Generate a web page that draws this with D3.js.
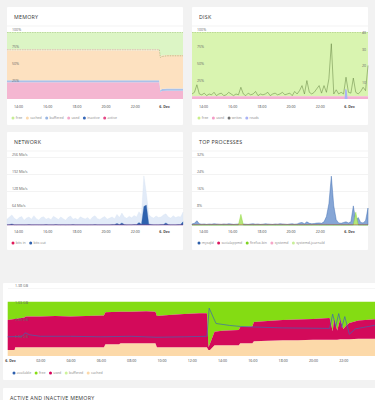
<!DOCTYPE html>
<html>
<head>
<meta charset="utf-8">
<script src="https://cdn.jsdelivr.net/npm/d3@7"></script>
<style>
body { margin: 0; background: #f2f2f2; }
svg { display: block; }
svg text { font-family: "Open Sans", sans-serif; }
.card { fill: #fff; }
.title { font-size: 5.3px; fill: #333; letter-spacing: 0.25px; }
.axis-text text { font-size: 3.6px; fill: #444; }
.value-text text { font-size: 3.6px; fill: #666; }
.legend-label { font-size: 3.5px; fill: #8a8a8a; }
</style>
</head>
<body>
<div id="board"></div>
<script>
// time axis of the four small panels, hours after 5 Dec 00:00
const panelStart = 13.25, panelEnd = 25.3;
const panelTicks = [14, 16, 18, 20, 22, 24];
const panelTickLabels = ['14:00', '16:00', '18:00', '20:00', '22:00', '6. Dec'];

// MEMORY, % of RAM
const memHours    = [13.25, 23.68, 23.75, 23.85, 24.2, 25.3];
const memUsed     = [25, 25, 10, 12, 12.5, 12.5];
const memBuffered = [3, 3, 3, 3, 3, 3];
const memCached   = [44.5, 44.5, 50, 50, 50, 50];
const memActive   = [73.5, 73.5, null, null, null, null];
const memInactive = [null, 73.5, 62, 63.5, 64.5, 64.5];
const memTotal = 100;
const pctTicks = [25, 50, 75, 100];
const pctLabels = ['25%', '50%', '75%', '100%'];
const memNames = ['free', 'cached', 'buffered', 'used', 'inactive', 'active'];
const memColors = ['#c6ec96', '#fbd9ae', '#98b5e3', '#f2a7c9', '#3567b7', '#e54887'];

// DISK
const diskHours = [13.25, 25.3];
const diskUsed = [4, 4];
const diskWrites = [3, 4, 8.5, 3, 2.5, 3.5, 2, 3, 2.5, 4,
  2, 3, 3.5, 2, 2.5, 4, 3, 2, 3, 2.5,
  7, 3, 2, 3.5, 2.5, 3, 4.5, 2, 3, 2.5,
  3, 4, 2, 3, 3.5, 2.5, 3, 4, 2.5, 3,
  3.5, 2, 4.5, 3, 5, 8, 3, 11, 4, 3,
  4, 6, 8, 3.5, 8, 4, 12, 33, 3, 5.5,
  3, 4, 3, 13, 4, 3.5, 12.5, 4, 3, 4.5,
  7, 5, 20];
const readHours = [13.25, 23.70, 23.74, 23.84, 23.90, 25.3];
const diskReads = [0, 0, 6, 5.5, 0, 0];
const ioTicks = [10, 20, 30, 40];
const diskNames = ['free', 'used', 'writes', 'reads'];
const diskColors = ['#c9ee8a', '#f29cc7', '#707070', '#a9b2f5'];

// NETWORK, Mb/s
const netPeak = [22, 30, 38, 25, 20, 28, 32, 18, 26, 30,
  22, 35, 24, 19, 28, 31, 22, 26, 20, 33,
  27, 21, 30, 24, 18, 29, 34, 22, 25, 20,
  31, 26, 23, 28, 19, 30, 35, 24, 21, 27,
  32, 22, 26, 30, 24, 40, 28, 45, 30, 25,
  33, 27, 36, 30, 50, 38, 185, 120, 40, 30,
  26, 34, 28, 30, 38, 42, 30, 26, 35, 28,
  32, 30, 48];
const netOut = [1, 1.5, 4, 1, 1, 1.2, 1, 0.8, 1, 1.5,
  1, 1, 1.2, 1, 0.8, 1, 1.5, 1, 1, 1,
  2, 1, 1, 1.2, 0.8, 1, 1, 1.5, 1, 1,
  1, 1.2, 1, 0.8, 1, 1, 1.5, 1, 1, 1,
  1.2, 1, 1, 1.5, 2, 6, 1.5, 8, 1.5, 1,
  1.2, 1, 2, 1.5, 9, 3, 70, 75, 4, 1.5,
  1, 1.2, 1, 1.5, 2, 8, 1.5, 1, 1.2, 1,
  1.5, 2, 12];
const netIn = [0.3, 0.3, 0.4, 0.3, 0.3, 0.3, 0.4, 0.3, 0.3, 0.5, 0.3, 0.4, 0.3];
const netTicks = [64, 128, 192, 256];
const netLabels = ['64 Mb/s', '128 Mb/s', '192 Mb/s', '256 Mb/s'];
const netNames = ['bits in', 'bits out'];
const netColors = ['#e0195a', '#2e60ad'];

// TOP PROCESSES, % cpu
const procMysqld = [0.5, 0.8, 2, 0.6, 0.4, 0.5, 0.3, 0.5, 0.4, 0.6,
  0.5, 0.4, 0.3, 0.5, 0.4, 0.6, 0.5, 0.3, 0.4, 0.5,
  0.8, 0.5, 0.4, 0.3, 0.5, 0.6, 0.4, 0.5, 0.3, 0.4,
  0.6, 0.5, 0.4, 0.3, 0.5, 0.4, 0.6, 0.5, 0.4, 0.3,
  0.5, 0.6, 0.4, 0.5, 1, 1.2, 0.6, 1.5, 0.8, 0.6,
  0.7, 0.9, 1, 0.8, 1.5, 4, 10, 23, 9, 2.5,
  1, 0.8, 1.2, 1.5, 1, 1.5, 9, 2, 3.5, 1.2,
  1, 2, 8];
const procFirefox = [0, 0, 0, 0, 0, 0, 0, 0, 0, 0,
  0, 0, 0, 0, 0, 0, 0, 0, 0, 0,
  5, 0, 0, 0, 0, 0, 0, 0, 0, 0,
  0, 0, 0, 0, 0, 0, 0, 0, 0, 0,
  0, 0, 0, 0, 0, 0, 0, 0, 0, 0,
  0, 0, 0, 0, 0, 0, 0, 0, 0, 0,
  0, 0, 0, 0, 0, 0, 0, 6, 0, 0,
  0, 0, 0];
const procSocial = [0.2, 0.2, 0.3, 0.2, 0.2, 0.2, 0.3, 0.2, 0.2, 0.3, 0.2, 0.2, 0.2];
const procTicks = [8, 16, 24, 32];
const procLabels = ['8%', '16%', '24%', '32%'];
const procNames = ['mysqld', 'socialappmd', 'firefox-bin', 'systemd', 'systemd-journald'];
const procColors = ['#2c5ea9', '#db1860', '#7ed321', '#f5a6c8', '#c8ef9a'];

// RAM over the day, GB, hours after 6 Dec 00:00
const dayHours = [-0.15, 0.3, 0.35, 0.95, 1.05, 2, 3, 4, 5, 6.2,
  6.3, 7.2, 7.3, 8, 9, 9.6, 9.7, 10.5, 11.5, 12.5,
  13.0, 13.1, 13.2, 13.5, 14, 15.1, 15.2, 16.0, 16.1, 17,
  18, 19, 20, 21.1, 21.3, 21.4, 21.6, 21.8, 22.0, 22.2,
  22.4, 23, 24.2];
const dayCached = [0.12, 0.12, 0.18, 0.18, 0.18, 0.18, 0.18, 0.18, 0.18, 0.18,
  0.24, 0.24, 0.26, 0.26, 0.26, 0.26, 0.18, 0.18, 0.18, 0.18,
  0.18, 0.12, 0.12, 0.22, 0.22, 0.22, 0.26, 0.26, 0.30, 0.31,
  0.32, 0.32, 0.33, 0.33, 0.33, 0.33, 0.33, 0.34, 0.34, 0.34,
  0.34, 0.35, 0.35];
const dayUsed = [0.61, 0.63, 0.57, 0.60, 0.62, 0.62, 0.63, 0.62, 0.63, 0.64,
  0.65, 0.66, 0.64, 0.64, 0.65, 0.64, 0.63, 0.65, 0.67, 0.69,
  0.69, 0.06, 0.13, 0.27, 0.29, 0.31, 0.33, 0.34, 0.39, 0.40,
  0.41, 0.42, 0.42, 0.44, 0.17, 0.43, 0.19, 0.41, 0.21, 0.28,
  0.33, 0.37, 0.40];
const availHours = [-0.15, 0.8, 1.0, 1.3, 2, 4, 6, 8, 9.7, 11.5,
  13.0, 13.15, 13.6, 14.5, 15.2, 16, 18, 21.1, 21.3, 21.5,
  21.7, 21.9, 22.1, 22.4, 22.8, 24.2];
const dayAvailable = [0.39, 0.40, 0.47, 0.43, 0.40, 0.40, 0.39, 0.40, 0.38, 0.39,
  0.40, 0.97, 0.66, 0.62, 0.60, 0.59, 0.57, 0.56, 0.85, 0.60,
  0.86, 0.58, 0.80, 0.44, 0.55, 0.63];
const dayTotal = 1.10;
const dayTicks = [0, 2, 4, 6, 8, 10, 12, 14, 16, 18, 20, 22];
const dayTickLabels = ['6. Dec', '02:00', '04:00', '06:00', '08:00', '10:00', '12:00', '14:00', '16:00', '18:00', '20:00', '22:00'];
const gbTicks = [0.345, 0.69, 1.035, 1.38];
const gbLabels = ['0.34 GB', '0.69 GB', '1.03 GB', '1.38 GB'];
const dayNames = ['available', 'free', 'used', 'buffered', 'cached'];
const dayColors = ['#2d5fae', '#86dd12', '#d4005a', '#cdf49b', '#fcd8a8'];

const svg = d3.select('#board').append('svg').attr('width', 375).attr('height', 400);

function evenHours(values, start, end) {
  return values.map((v, i) => start + i * (end - start) / (values.length - 1));
}

function drawCard(x, y, w, h, name, header) {
  svg.append('rect').attr('class', 'card')
    .attr('x', x).attr('y', y).attr('width', w).attr('height', h).attr('rx', 1);
  if (name) {
    svg.append('text').attr('class', 'title').attr('x', x + 7).attr('y', y + 11.5).text(name);
  }
  if (header) {
    svg.append('line').attr('x1', x).attr('x2', x + w)
      .attr('y1', y + header).attr('y2', y + header)
      .attr('stroke', '#f0f0f0').attr('stroke-width', 0.8);
  }
}

function drawTimeAxis(xScale, yPos, ticks, labels) {
  const g = svg.append('g').attr('class', 'axis-text')
    .attr('transform', 'translate(0,' + yPos + ')')
    .call(d3.axisBottom(xScale).tickValues(ticks).tickSize(0).tickFormat((d, i) => labels[i]));
  g.select('.domain').remove();
  g.selectAll('text').attr('y', 0).attr('dy', 0)
    .style('font-weight', (d, i) => labels[i].indexOf('Dec') > -1 ? 'bold' : 'normal');
}

function drawValueAxis(yScale, x0, x1, ticks, labels, opt) {
  const g = svg.append('g').attr('class', 'value-text')
    .attr('transform', 'translate(' + x0 + ',0)')
    .call(d3.axisRight(yScale).tickValues(ticks).tickSize(x1 - x0).tickFormat((d, i) => labels[i]));
  g.select('.domain').remove();
  g.selectAll('.tick line').attr('stroke', opt.grid || 'none').attr('stroke-width', 0.5)
    .attr('stroke-dasharray', opt.dash || null);
  if (opt.noText) g.selectAll('.tick text').remove();
  g.selectAll('.tick text').attr('x', opt.dx).attr('dy', opt.dy || '-0.3em')
    .attr('text-anchor', opt.anchor || 'start');
}

function drawLegend(x, y, names, colors) {
  let cx = x;
  names.forEach((name, i) => {
    svg.append('circle').attr('cx', cx).attr('cy', y).attr('r', 1.5).attr('fill', colors[i]);
    const t = svg.append('text').attr('class', 'legend-label')
      .attr('x', cx + 2.8).attr('y', y + 1.2).text(name);
    cx += 2.8 + t.node().getComputedTextLength() + 5;
  });
}

function areaPath(hours, values, x, y) {
  const rows = hours.map((h, i) => ({h: h, v: values[i]}));
  return d3.area().x(d => x(d.h)).y0(y(0)).y1(d => y(d.v))(rows);
}

function linePath(hours, values, x, y) {
  const rows = hours.map((h, i) => ({h: h, v: values[i]}));
  return d3.line().defined(d => d.v !== null).x(d => x(d.h)).y(d => y(d.v))(rows);
}

// ---------- MEMORY
function drawMemory() {
  drawCard(7, 7, 176, 118, 'MEMORY', 19);
  const x = d3.scaleLinear().domain([panelStart, panelEnd]).range([7, 183]);
  const y = d3.scaleLinear().domain([0, memTotal]).range([99, 32]);
  const rows = memHours.map((h, i) => ({h: h, used: memUsed[i], buffered: memBuffered[i], cached: memCached[i]}));
  const stack = d3.stack().keys(['used', 'buffered', 'cached'])(rows);
  const colors = {used: '#f4b6d1', buffered: '#a9c2e9', cached: '#fde1c0'};

  svg.append('path').datum(stack[2])
    .attr('fill', '#dcf5c5')
    .attr('d', d3.area().x(d => x(d.data.h)).y0(y(memTotal)).y1(d => y(d[1])));
  stack.forEach(layer => {
    svg.append('path').datum(layer).attr('fill', colors[layer.key])
      .attr('d', d3.area().x(d => x(d.data.h)).y0(d => y(d[0])).y1(d => y(d[1])));
  });
  drawValueAxis(y, 7, 183, [100], [''], {grid: '#9fbf7a', dash: '1.5,1', noText: true});
  svg.append('path').attr('fill', 'none').attr('stroke', '#ee8fae').attr('stroke-width', 0.6)
    .attr('stroke-dasharray', '1.5,1').attr('d', linePath(memHours, memActive, x, y));
  svg.append('path').attr('fill', 'none').attr('stroke', '#9aa86a').attr('stroke-width', 0.6)
    .attr('stroke-dasharray', '1.5,1').attr('d', linePath(memHours, memInactive, x, y));
  drawValueAxis(y, 7, 183, pctTicks, pctLabels, {dx: 5});
  drawTimeAxis(x, 107.5, panelTicks, panelTickLabels);
  drawLegend(13, 118, memNames, memColors);
}

// ---------- DISK
function drawDisk() {
  drawCard(192, 7, 176, 118, 'DISK', 19);
  const x = d3.scaleLinear().domain([panelStart, panelEnd]).range([192, 368]);
  const y = d3.scaleLinear().domain([0, 100]).range([99, 32]);
  const y2 = d3.scaleLinear().domain([0, 40]).range([99, 32]);
  const rows = diskHours.map((h, i) => ({h: h, v: diskUsed[i]}));

  svg.append('path').datum(rows).attr('fill', '#d9f4b0')
    .attr('d', d3.area().x(d => x(d.h)).y0(y(100)).y1(d => y(d.v)));
  svg.append('path').attr('fill', '#f4b0d2').attr('d', areaPath(diskHours, diskUsed, x, y));
  drawValueAxis(y, 192, 368, [100], [''], {grid: '#9fbf7a', dash: '1.5,1', noText: true});
  svg.append('path').attr('fill', '#a9b2f5').attr('d', areaPath(readHours, diskReads, x, y2));
  svg.append('path').attr('fill', 'none').attr('stroke', '#5e7f3c').attr('stroke-width', 0.5)
    .attr('d', linePath(evenHours(diskWrites, panelStart, panelEnd), diskWrites, x, y2));
  drawValueAxis(y, 192, 368, pctTicks, pctLabels, {dx: 5});
  drawValueAxis(y2, 192, 368, ioTicks, ioTicks.map(String), {dx: 174, anchor: 'end', dy: '0.35em'});
  drawTimeAxis(x, 107.5, panelTicks, panelTickLabels);
  drawLegend(199, 118, diskNames, diskColors);
}

// ---------- NETWORK
function drawNetwork() {
  drawCard(7, 132, 176, 118, 'NETWORK', 19);
  const x = d3.scaleLinear().domain([panelStart, panelEnd]).range([7, 183]);
  const y = d3.scaleLinear().domain([0, 256]).range([225, 157]);
  drawValueAxis(y, 7, 183, netTicks, netLabels, {grid: '#e6e6e6', dx: 5});
  const hours = evenHours(netPeak, panelStart, panelEnd);
  svg.append('path').attr('fill', '#e2ebf8').attr('stroke', '#d3e0f3').attr('stroke-width', 0.3)
    .attr('d', areaPath(hours, netPeak, x, y));
  svg.append('path').attr('fill', '#2e62ae').attr('stroke', '#2e62ae').attr('stroke-width', 0.3)
    .attr('d', areaPath(evenHours(netOut, panelStart, panelEnd), netOut, x, y));
  svg.append('path').attr('fill', 'none').attr('stroke', '#e0195a').attr('stroke-width', 0.3)
    .attr('d', linePath(evenHours(netIn, panelStart, panelEnd), netIn, x, y));
  drawTimeAxis(x, 233, panelTicks, panelTickLabels);
  drawLegend(13, 243, netNames, netColors);
}

// ---------- TOP PROCESSES
function drawProcesses() {
  drawCard(192, 132, 176, 118, 'TOP PROCESSES', 19);
  const x = d3.scaleLinear().domain([panelStart, panelEnd]).range([192, 368]);
  const y = d3.scaleLinear().domain([0, 32]).range([225, 157]);
  drawValueAxis(y, 192, 368, procTicks, procLabels, {grid: '#e6e6e6', dx: 5});
  svg.append('path').attr('fill', '#86a6d6').attr('stroke', '#2c5ea9').attr('stroke-width', 0.4)
    .attr('d', areaPath(evenHours(procMysqld, panelStart, panelEnd), procMysqld, x, y));
  svg.append('path').attr('fill', '#b5e67a').attr('stroke', '#7ed321').attr('stroke-width', 0.4)
    .attr('d', areaPath(evenHours(procFirefox, panelStart, panelEnd), procFirefox, x, y));
  svg.append('path').attr('fill', 'none').attr('stroke', '#db1860').attr('stroke-width', 0.3)
    .attr('d', linePath(evenHours(procSocial, panelStart, panelEnd), procSocial, x, y));
  drawTimeAxis(x, 233, panelTicks, panelTickLabels);
  drawLegend(199, 243, procNames, procColors);
}

// ---------- RAM OVER THE DAY
function drawDay() {
  drawCard(3, 283, 380, 97, null, 0);
  const x = d3.scaleLinear().domain([-0.15, 24.2]).range([7.7, 376.6]);
  const y = d3.scaleLinear().domain([0, 1.38]).range([356, 288]);
  drawValueAxis(y, 8, 375, [1.38], [''], {grid: '#ececec', noText: true});
  const rows = dayHours.map((h, i) => ({h: h, cached: dayCached[i], used: dayUsed[i]}));
  const stack = d3.stack().keys(['cached', 'used'])(rows);
  const colors = {cached: '#fcd9a9', used: '#d30a5a'};

  svg.append('path').datum(stack[1]).attr('fill', '#84dc13')
    .attr('d', d3.area().x(d => x(d.data.h)).y0(y(dayTotal)).y1(d => y(d[1])));
  stack.forEach(layer => {
    svg.append('path').datum(layer).attr('fill', colors[layer.key])
      .attr('d', d3.area().x(d => x(d.data.h)).y0(d => y(d[0])).y1(d => y(d[1])));
  });
  svg.append('path').attr('fill', 'none').attr('stroke', '#3d66b0').attr('stroke-width', 0.7)
    .attr('d', linePath(availHours, dayAvailable, x, y));
  drawValueAxis(y, 8, 375, gbTicks, gbLabels, {dx: 7});
  drawTimeAxis(x, 362, dayTicks, dayTickLabels);
  drawLegend(14, 373, dayNames, dayColors);

  drawCard(3, 388, 380, 20, 'ACTIVE AND INACTIVE MEMORY', 0);
}

drawMemory();
drawDisk();
drawNetwork();
drawProcesses();
drawDay();
</script>
</body>
</html>
